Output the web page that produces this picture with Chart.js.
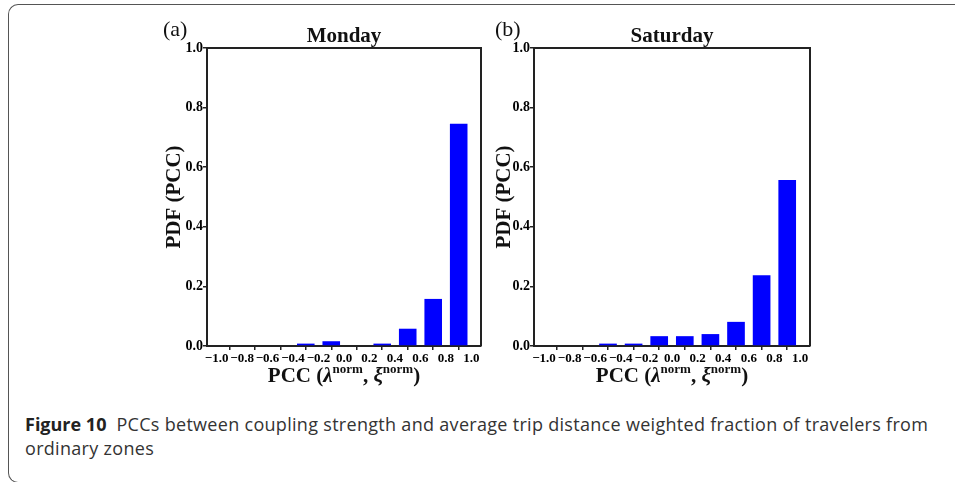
<!DOCTYPE html>
<html>
<head>
<meta charset="utf-8">
<script src="https://cdn.jsdelivr.net/npm/chart.js@4"></script>
<style>
  html, body { margin:0; padding:0; background:#fff; width:955px; height:482px; overflow:hidden; }
  #frame { position:absolute; left:8px; top:4px; width:1000px; height:477px;
           border:1.5px solid #555; border-right:none; border-radius:10px 0 0 10px; }
  .panel { position:absolute; top:0; width:345px; height:400px; }
  #caption { position:absolute; left:25px; top:412px; font-family:"Open Sans"; font-size:18px;
             letter-spacing:0.3px; line-height:24px; color:#333; white-space:nowrap; }
  #caption b { color:#222; letter-spacing:0; }
</style>
</head>
<body>
<div id="frame"></div>
<canvas id="chartA" class="panel" width="345" height="400" style="left:140px"></canvas>
<canvas id="chartB" class="panel" width="345" height="400" style="left:470px"></canvas>
<div id="caption"><b>Figure 10</b>&nbsp; PCCs between coupling strength and average trip distance weighted fraction of travelers from<br>ordinary zones</div>
<script>
// bin centres of the PCC histogram (bins of width 0.2)
const binCenters = [-0.9, -0.7, -0.5, -0.3, -0.1, 0.1, 0.3, 0.5, 0.7, 0.9];
const mondayPdf   = [0, 0, 0, 0.008, 0.016, 0, 0.008, 0.058, 0.158, 0.746];
const saturdayPdf = [0, 0, 0.008, 0.008, 0.033, 0.033, 0.040, 0.081, 0.237, 0.557];

const xTickValues = [-1.0, -0.8, -0.6, -0.4, -0.2, 0.0, 0.2, 0.4, 0.6, 0.8, 1.0];
const xTickLabels = ['\u22121.0','\u22120.8','\u22120.6','\u22120.4','\u22120.2','0.0','0.2','0.4','0.6','0.8','1.0'];
const yTickValues = [0, 0.2, 0.4, 0.6, 0.8, 1.0];
const yTickLabels = ['0.0','0.2','0.4','0.6','0.8','1.0'];

const SERIF = '"Liberation Serif", "Times New Roman", serif';
const INK = '#222';

// frame box + letters, titles and the x title with superscripts
const textPlugin = {
  id: 'panelText',
  afterDraw(chart, args, o) {
    const { ctx, chartArea: a } = chart;
    ctx.save();
    ctx.strokeStyle = INK; ctx.lineWidth = 2;
    ctx.beginPath();
    ctx.moveTo(a.left, a.top); ctx.lineTo(a.right, a.top); ctx.lineTo(a.right, a.bottom);
    ctx.stroke();

    ctx.fillStyle = '#111';
    ctx.textBaseline = 'alphabetic';
    ctx.textAlign = 'left';
    ctx.font = '22px ' + SERIF;
    ctx.fillText(o.letter, o.letterX, 36);

    ctx.textAlign = 'center';
    ctx.font = 'bold 21px ' + SERIF;
    ctx.fillText(o.title, (a.left + a.right) / 2, 42);

    // y title
    ctx.save();
    ctx.translate(35, (a.top + a.bottom) / 2);
    ctx.rotate(-Math.PI / 2);
    ctx.textBaseline = 'middle';
    ctx.fillText('PDF (PCC)', 0, 0);
    ctx.restore();

    // x title: PCC (λ^norm, ξ^norm)
    const big = 'bold 21px ' + SERIF, ital = 'italic bold 21px ' + SERIF, sup = 'bold 13px ' + SERIF;
    const parts = [
      { t: 'PCC (', f: big, dy: 0 }, { t: '\u03bb', f: ital, dy: 0 }, { t: 'norm', f: sup, dy: -9 },
      { t: ', ', f: big, dy: 0 }, { t: '\u03be', f: ital, dy: 0 }, { t: 'norm', f: sup, dy: -9 },
      { t: ')', f: big, dy: 0 }
    ];
    let total = 0;
    parts.forEach(p => { ctx.font = p.f; p.w = ctx.measureText(p.t).width; total += p.w; });
    let x = (a.left + a.right) / 2 - total / 2;
    ctx.textAlign = 'left';
    parts.forEach(p => { ctx.font = p.f; ctx.fillText(p.t, x, 382 + p.dy); x += p.w; });
    ctx.restore();
  }
};

function makePanel(id, values, letter, letterX, title, yWidth, padRight, xLim) {
  return new Chart(document.getElementById(id), {
    type: 'bar',
    data: {
      datasets: [{
        data: binCenters.map((c, i) => ({ x: c, y: values[i] })),
        backgroundColor: '#0000ff',
        borderWidth: 0,
        barPercentage: 0.69,
        categoryPercentage: 1.0
      }]
    },
    options: {
      responsive: false,
      animation: false,
      layout: { padding: { left: 0, right: padRight, top: 48, bottom: 0 } },
      plugins: {
        legend: { display: false },
        tooltip: { enabled: false },
        panelText: { letter, letterX, title }
      },
      scales: {
        x: {
          type: 'linear', min: -xLim, max: xLim, offset: false,
          afterFit: s => { s.height = 54; },
          afterBuildTicks: s => { s.ticks = xTickValues.map(v => ({ value: v })); },
          grid: { drawOnChartArea: false, drawTicks: true, tickLength: 4, color: INK, lineWidth: 1.5 },
          border: { display: true, color: INK, width: 2 },
          ticks: {
            autoSkip: false, maxRotation: 0, padding: 1, color: '#000',
            font: { family: SERIF, weight: 'bold', size: 13 },
            callback: (v, i) => xTickLabels[i]
          }
        },
        y: {
          min: 0, max: 1,
          afterFit: s => { s.width = yWidth; },
          afterBuildTicks: s => { s.ticks = yTickValues.map(v => ({ value: v })); },
          grid: { drawOnChartArea: false, drawTicks: true, tickLength: 4, color: INK, lineWidth: 1.5 },
          border: { display: true, color: INK, width: 2 },
          ticks: {
            padding: 0, color: '#000',
            font: { family: SERIF, weight: 'bold', size: 14 },
            callback: (v, i) => yTickLabels[i]
          }
        }
      }
    },
    plugins: [textPlugin]
  });
}

makePanel('chartA', mondayPdf, '(a)', 23, 'Monday', 67, 4, 1.075);
makePanel('chartB', saturdayPdf, '(b)', 25, 'Saturday', 64, 5, 1.078);
</script>
</body>
</html>
